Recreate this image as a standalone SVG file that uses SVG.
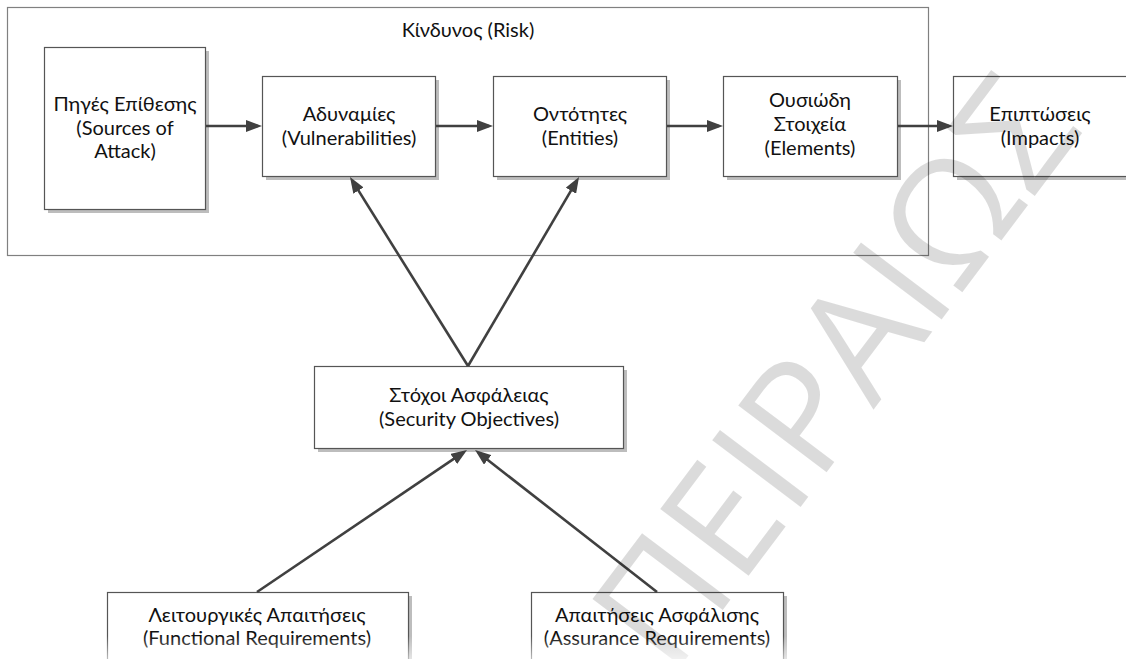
<svg xmlns="http://www.w3.org/2000/svg" width="1126" height="659" viewBox="0 0 1126 659">
  <defs>
    <style>
      .frame { fill: none; stroke: #808080; stroke-width: 1.2; }
      .box { fill: #ffffff; stroke: #555555; stroke-width: 1.2; }
      .shadow { fill: #bdbdbd; }
      .label { font-family: Lato, "Noto Sans", "DejaVu Sans", sans-serif; font-size: 20px; fill: #111111; text-anchor: middle; }
      .conn { stroke: #404040; stroke-width: 2.6; fill: none; marker-end: url(#arrow); }
      .mark { font-family: "Open Sans", "Noto Sans", "DejaVu Sans", sans-serif; font-size: 155px; fill: #000000; fill-opacity: 0.14; text-anchor: middle; }
    </style>
    <marker id="arrow" viewBox="0 0 16 12" refX="12" refY="6" markerWidth="16" markerHeight="12" markerUnits="userSpaceOnUse" orient="auto">
      <path d="M0,0 L16,6 L0,12 z" fill="#404040"/>
    </marker>
    <linearGradient id="fade" x1="0" y1="0" x2="0" y2="1">
      <stop offset="0" stop-color="#ffffff" stop-opacity="0"/>
      <stop offset="1" stop-color="#ffffff" stop-opacity="0.6"/>
    </linearGradient>
  </defs>

  <rect width="1126" height="659" fill="#ffffff"/>

  <!-- Risk container -->
  <g id="risk">
    <rect class="frame" x="7.5" y="7.5" width="921" height="248"/>
    <text class="label" x="468" y="37">Κίνδυνος (Risk)</text>
  </g>

  <g id="sources">
    <rect class="shadow" x="48" y="51" width="161" height="162"/>
    <rect class="box" x="44.5" y="47.5" width="161" height="162"/>
    <text class="label" x="125" y="111">Πηγές Επίθεσης</text>
    <text class="label" x="125" y="135">(Sources of</text>
    <text class="label" x="125" y="158">Attack)</text>
  </g>

  <g id="vulnerabilities">
    <rect class="shadow" x="266" y="80" width="173" height="100"/>
    <rect class="box" x="262.5" y="76.5" width="173" height="100"/>
    <text class="label" x="349" y="121">Αδυναμίες</text>
    <text class="label" x="349" y="145">(Vulnerabilities)</text>
  </g>

  <g id="entities">
    <rect class="shadow" x="497" y="80" width="173" height="100"/>
    <rect class="box" x="493.5" y="76.5" width="173" height="100"/>
    <text class="label" x="580" y="121">Οντότητες</text>
    <text class="label" x="580" y="145">(Entities)</text>
  </g>

  <g id="elements">
    <rect class="shadow" x="727" y="80" width="174" height="100"/>
    <rect class="box" x="723.5" y="76.5" width="174" height="100"/>
    <text class="label" x="810" y="107">Ουσιώδη</text>
    <text class="label" x="810" y="131">Στοιχεία</text>
    <text class="label" x="810" y="155">(Elements)</text>
  </g>

  <g id="impacts">
    <rect class="shadow" x="957" y="80" width="174" height="100"/>
    <rect class="box" x="953.5" y="76.5" width="174" height="100"/>
    <text class="label" x="1040" y="121">Επιπτώσεις</text>
    <text class="label" x="1040" y="145">(Impacts)</text>
  </g>

  <g id="objectives">
    <rect class="shadow" x="318" y="370" width="309" height="82"/>
    <rect class="box" x="314.5" y="366.5" width="309" height="82"/>
    <text class="label" x="469" y="402">Στόχοι Ασφάλειας</text>
    <text class="label" x="469" y="426">(Security Objectives)</text>
  </g>

  <g id="functional">
    <rect class="shadow" x="111" y="596" width="301" height="82"/>
    <rect class="box" x="107.5" y="592.5" width="301" height="82"/>
    <text class="label" x="257" y="622">Λειτουργικές Απαιτήσεις</text>
    <text class="label" x="257" y="645">(Functional Requirements)</text>
  </g>

  <g id="assurance">
    <rect class="shadow" x="535" y="596" width="252" height="82"/>
    <rect class="box" x="531.5" y="592.5" width="252" height="82"/>
    <text class="label" x="657" y="622">Απαιτήσεις Ασφάλισης</text>
    <text class="label" x="657" y="645">(Assurance Requirements)</text>
  </g>

  <!-- connectors -->
  <g id="connectors">
    <line class="conn" x1="206" y1="126" x2="258" y2="126"/>
    <line class="conn" x1="436" y1="126" x2="489" y2="126"/>
    <line class="conn" x1="667" y1="126" x2="719" y2="126"/>
    <line class="conn" x1="898" y1="126" x2="949" y2="126"/>
    <line class="conn" x1="468" y1="366" x2="352.1" y2="180.4"/>
    <line class="conn" x1="468" y1="366" x2="577.0" y2="180.4"/>
    <line class="conn" x1="257" y1="592" x2="463.7" y2="452.2"/>
    <line class="conn" x1="657" y1="592" x2="478.2" y2="452.5"/>
  </g>

  <!-- faint lettering across the page -->
  <text class="mark" transform="translate(878,404) rotate(-53)">ΠΕΙΡΑΙΩΣ</text>

  <rect x="0" y="636" width="1126" height="23" fill="url(#fade)"/>
</svg>
